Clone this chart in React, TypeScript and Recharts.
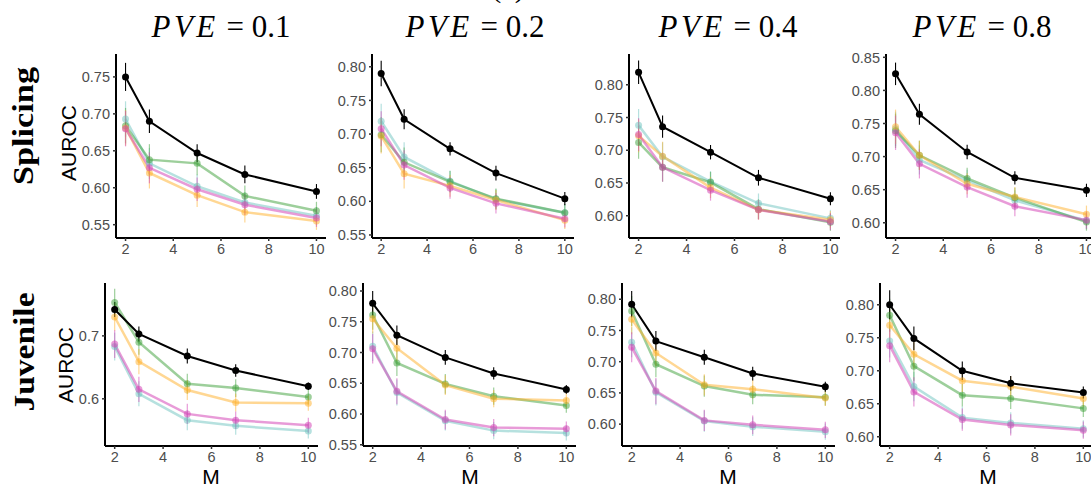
import { LineChart, Line, XAxis, YAxis, ErrorBar } from 'recharts';

// number of components M (x axis)
const M_VALUES = [2, 3, 5, 7, 10];
const X_TICKS = [2, 4, 6, 8, 10];

// panel order: Splicing PVE 0.1 / 0.2 / 0.4 / 0.8, then Juvenile PVE 0.1 / 0.2 / 0.4 / 0.8
const PVE_LABELS = ['0.1', '0.2', '0.4', '0.8'];
const ROW_LABELS = ['Splicing', 'Juvenile'];

const blackAuroc = [
  [0.750, 0.690, 0.647, 0.618, 0.595],
  [0.790, 0.722, 0.678, 0.642, 0.604],
  [0.819, 0.736, 0.697, 0.658, 0.626],
  [0.825, 0.764, 0.707, 0.668, 0.649],
  [0.742, 0.703, 0.668, 0.645, 0.620],
  [0.780, 0.728, 0.692, 0.666, 0.640],
  [0.792, 0.733, 0.707, 0.681, 0.660],
  [0.800, 0.749, 0.700, 0.681, 0.667],
];
const cyanAuroc = [
  [0.693, 0.633, 0.602, 0.580, 0.562],
  [0.719, 0.666, 0.630, 0.603, 0.583],
  [0.738, 0.690, 0.652, 0.619, 0.596],
  [0.742, 0.695, 0.664, 0.634, 0.603],
  [0.683, 0.608, 0.566, 0.557, 0.549],
  [0.710, 0.635, 0.589, 0.573, 0.569],
  [0.731, 0.651, 0.605, 0.596, 0.588],
  [0.745, 0.676, 0.629, 0.621, 0.612],
];
const greenAuroc = [
  [0.684, 0.638, 0.633, 0.589, 0.569],
  [0.699, 0.658, 0.629, 0.604, 0.583],
  [0.712, 0.674, 0.651, 0.610, 0.590],
  [0.739, 0.702, 0.667, 0.638, 0.601],
  [0.753, 0.690, 0.624, 0.617, 0.603],
  [0.761, 0.683, 0.649, 0.629, 0.614],
  [0.781, 0.696, 0.661, 0.647, 0.643],
  [0.784, 0.707, 0.663, 0.658, 0.643],
];
const orangeAuroc = [
  [0.681, 0.620, 0.590, 0.567, 0.555],
  [0.697, 0.641, 0.623, 0.602, 0.572],
  [0.722, 0.691, 0.643, 0.609, 0.594],
  [0.745, 0.702, 0.659, 0.639, 0.613],
  [0.730, 0.659, 0.614, 0.594, 0.593],
  [0.755, 0.707, 0.647, 0.625, 0.622],
  [0.768, 0.714, 0.663, 0.656, 0.642],
  [0.769, 0.725, 0.685, 0.676, 0.658],
];
const pinkAuroc = [
  [0.680, 0.627, 0.598, 0.577, 0.559],
  [0.708, 0.654, 0.620, 0.597, 0.574],
  [0.724, 0.674, 0.639, 0.609, 0.591],
  [0.736, 0.689, 0.654, 0.625, 0.604],
  [0.687, 0.615, 0.576, 0.566, 0.558],
  [0.706, 0.637, 0.591, 0.578, 0.576],
  [0.723, 0.653, 0.606, 0.599, 0.591],
  [0.738, 0.668, 0.626, 0.618, 0.610],
];

// half-widths of the error bars
const blackErr = [
  [0.019, 0.016, 0.012, 0.012, 0.010],
  [0.019, 0.015, 0.010, 0.011, 0.010],
  [0.018, 0.017, 0.011, 0.012, 0.010],
  [0.017, 0.016, 0.011, 0.010, 0.010],
  [0.012, 0.012, 0.012, 0.010, 0.006],
  [0.020, 0.016, 0.012, 0.010, 0.007],
  [0.021, 0.016, 0.012, 0.011, 0.008],
  [0.022, 0.018, 0.014, 0.011, 0.009],
];
const colorErr = [
  [0.024, 0.021, 0.016, 0.014, 0.012],
  [0.026, 0.022, 0.016, 0.015, 0.013],
  [0.025, 0.022, 0.016, 0.015, 0.013],
  [0.026, 0.022, 0.016, 0.015, 0.013],
  [0.022, 0.020, 0.016, 0.014, 0.012],
  [0.024, 0.021, 0.016, 0.014, 0.012],
  [0.024, 0.021, 0.017, 0.015, 0.013],
  [0.025, 0.022, 0.017, 0.016, 0.013],
];

const yDomains: [number, number][] = [
  [0.532, 0.781],
  [0.5455, 0.819],
  [0.566, 0.847],
  [0.577, 0.855],
  [0.525, 0.784],
  [0.548, 0.813],
  [0.565, 0.826],
  [0.586, 0.833],
];
const yTicks = [
  [0.55, 0.6, 0.65, 0.7, 0.75],
  [0.55, 0.6, 0.65, 0.7, 0.75, 0.8],
  [0.6, 0.65, 0.7, 0.75, 0.8],
  [0.6, 0.65, 0.7, 0.75, 0.8, 0.85],
  [0.6, 0.7],
  [0.55, 0.6, 0.65, 0.7, 0.75, 0.8],
  [0.6, 0.65, 0.7, 0.75, 0.8],
  [0.6, 0.65, 0.7, 0.75, 0.8],
];

// plot area rectangles (left, top, width, height) in page pixels
const panelRects = [
  { x: 116, y: 54, w: 210, h: 184 },
  { x: 372, y: 54, w: 202, h: 184 },
  { x: 629, y: 54, w: 211, h: 184 },
  { x: 886, y: 54, w: 210, h: 184 },
  { x: 105, y: 283, w: 213, h: 163 },
  { x: 363, y: 283, w: 213, h: 163 },
  { x: 622, y: 283, w: 213, h: 163 },
  { x: 880, y: 283, w: 213, h: 163 },
];

const SERIES = [
  { key: 'cyan', vals: cyanAuroc, color: 'rgba(110,196,192,0.5)' },
  { key: 'green', vals: greenAuroc, color: 'rgba(60,160,56,0.5)' },
  { key: 'orange', vals: orangeAuroc, color: 'rgba(255,176,40,0.5)' },
  { key: 'pink', vals: pinkAuroc, color: 'rgba(214,72,184,0.55)' },
];

const tickStyle = { fontSize: 14.5, fill: '#4d4d4d', fontFamily: 'Liberation Sans, Arial, sans-serif' };

function Panel({ idx }: { idx: number }) {
  const r = panelRects[idx];
  const data = M_VALUES.map((m, i) => {
    const row: Record<string, number> = { M: m, black: blackAuroc[idx][i], blackErr: blackErr[idx][i] };
    SERIES.forEach((s) => {
      row[s.key] = s.vals[idx][i];
      row[s.key + 'Err'] = colorErr[idx][i];
    });
    return row;
  });
  const decimals = idx === 4 ? 1 : 2;

  return (
    <div style={{ position: 'absolute', left: r.x - 50, top: r.y - 5 }}>
      <LineChart width={r.w + 60} height={r.h + 35} data={data} margin={{ top: 5, right: 10, left: 0, bottom: 0 }}>
        <XAxis
          type="number"
          dataKey="M"
          domain={[1.6, 10.4]}
          ticks={X_TICKS}
          allowDataOverflow
          height={30}
          axisLine={{ stroke: '#000', strokeWidth: 2 }}
          tickLine={{ stroke: '#333', strokeWidth: 1.5 }}
          tickSize={3}
          tickMargin={3}
          tick={tickStyle}
        />
        <YAxis
          type="number"
          domain={yDomains[idx]}
          ticks={yTicks[idx]}
          allowDataOverflow
          width={50}
          axisLine={{ stroke: '#000', strokeWidth: 2 }}
          tickLine={{ stroke: '#333', strokeWidth: 1.5 }}
          tickSize={3}
          tickMargin={3}
          tick={tickStyle}
          tickFormatter={(v: number) => v.toFixed(decimals)}
        />
        {SERIES.map((s) => (
          <Line
            key={s.key}
            type="linear"
            dataKey={s.key}
            stroke={s.color}
            strokeWidth={2.5}
            dot={{ r: 3.5, fill: s.color, stroke: 'none' }}
            isAnimationActive={false}
          >
            <ErrorBar dataKey={s.key + 'Err'} width={0} stroke={s.color} strokeWidth={1.2} direction="y" />
          </Line>
        ))}
        <Line
          type="linear"
          dataKey="black"
          stroke="#000"
          strokeWidth={2}
          dot={{ r: 3.5, fill: '#000', stroke: 'none' }}
          isAnimationActive={false}
        >
          <ErrorBar dataKey="blackErr" width={0} stroke="#000" strokeWidth={1.1} direction="y" />
        </Line>
      </LineChart>
    </div>
  );
}

const titleCenters = [221, 475, 728, 982];
const xLabelCenters = [211, 470, 728, 988];

export default function App() {
  return (
    <div style={{ position: 'absolute', left: 0, top: 0, width: 1091, height: 487, overflow: 'hidden', background: '#fff' }}>
      {panelRects.map((_, i) => (
        <Panel key={i} idx={i} />
      ))}
      <svg width={1091} height={487} style={{ position: 'absolute', left: 0, top: 0, pointerEvents: 'none' }}>
        <text x={508} y={-3} textAnchor="middle" fontFamily="Liberation Serif, serif" fontSize={30}>(a)</text>
        {PVE_LABELS.map((p, i) => (
          <text
            key={p}
            x={titleCenters[i]}
            y={37}
            textAnchor="middle"
            fontFamily="Liberation Serif, serif"
            fontSize={31}
          >
            <tspan fontStyle="italic" letterSpacing={3.5}>PVE</tspan>
            <tspan> = {p}</tspan>
          </text>
        ))}
        <text x={33} y={126} transform="rotate(-90 33 126)" textAnchor="middle" fontFamily="Liberation Serif, serif" fontWeight="bold" fontSize={30} textLength={118} lengthAdjust="spacingAndGlyphs">
          {ROW_LABELS[0]}
        </text>
        <text x={34} y={352} transform="rotate(-90 34 352)" textAnchor="middle" fontFamily="Liberation Serif, serif" fontWeight="bold" fontSize={30} textLength={119} lengthAdjust="spacingAndGlyphs">
          {ROW_LABELS[1]}
        </text>
        <text x={76} y={143} transform="rotate(-90 76 143)" textAnchor="middle" fontFamily="Liberation Sans, Arial, sans-serif" fontSize={21}>AUROC</text>
        <text x={73} y={365} transform="rotate(-90 73 365)" textAnchor="middle" fontFamily="Liberation Sans, Arial, sans-serif" fontSize={21}>AUROC</text>
        {xLabelCenters.map((cx, i) => (
          <text key={i} x={cx} y={484} textAnchor="middle" fontFamily="Liberation Sans, Arial, sans-serif" fontSize={21}>M</text>
        ))}
      </svg>
    </div>
  );
}
